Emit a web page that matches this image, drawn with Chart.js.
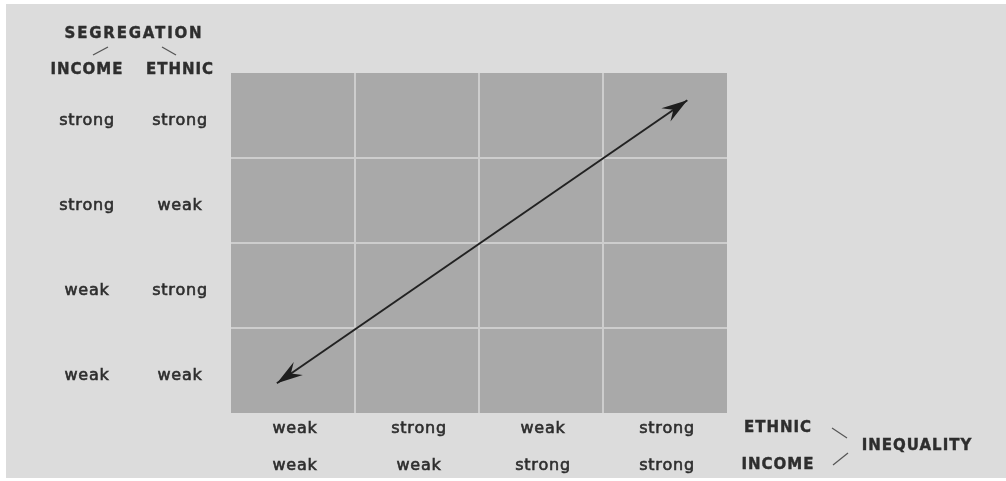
<!DOCTYPE html>
<html>
<head>
<meta charset="utf-8">
<script src="https://cdn.jsdelivr.net/npm/chart.js@4.4.1/dist/chart.umd.min.js"></script>
<style>
  html, body { margin: 0; padding: 0; background: #ffffff; }
  #wrap { width: 1006px; height: 481px; }
</style>
</head>
<body>
<div id="wrap"><canvas id="chart" width="1006" height="481"></canvas></div>
<script>
// rows bottom -> top (y axis), columns left -> right (x axis)
const incomeSegregation = ["weak", "weak", "strong", "strong"];
const ethnicSegregation = ["weak", "strong", "weak", "strong"];
const ethnicInequality = ["weak", "strong", "weak", "strong"];
const incomeInequality = ["weak", "weak", "strong", "strong"];

// double headed arrow, in cell units (0..4)
const arrowX = [0.37, 3.68];
const arrowY = [0.35, 3.68];

const TEXT = "#2e2e2e";
const labelFont = "16px 'DejaVu Sans'";
const headFont = "bold 15px 'DejaVu Sans'";

function drawText(ctx, str, x, y, font, spacing, weight) {
  ctx.font = font;
  ctx.letterSpacing = spacing + "px";
  ctx.fillText(str, x, y);
  if (weight) {
    // fatten the glyphs a little, the print is heavier than the book face
    ctx.lineWidth = weight;
    ctx.strokeStyle = TEXT;
    ctx.strokeText(str, x, y);
  }
  ctx.letterSpacing = "0px";
}

function slash(ctx, x1, y1, x2, y2) {
  ctx.beginPath();
  ctx.moveTo(x1, y1);
  ctx.lineTo(x2, y2);
  ctx.stroke();
}

function arrowHead(ctx, tip, from) {
  const ang = Math.atan2(tip.y - from.y, tip.x - from.x);
  ctx.save();
  ctx.translate(tip.x, tip.y);
  ctx.rotate(ang);
  ctx.beginPath();
  ctx.moveTo(0, 0);
  ctx.lineTo(-26, -8);
  ctx.lineTo(-17, 0);
  ctx.lineTo(-26, 8);
  ctx.closePath();
  ctx.fillStyle = "#1e1e1e";
  ctx.fill();
  ctx.restore();
}

const backgroundPlugin = {
  id: "matrixBackground",
  beforeDraw(chart) {
    const { ctx, chartArea } = chart;
    ctx.save();
    ctx.fillStyle = "#ffffff";
    ctx.fillRect(0, 0, chart.width, chart.height);
    ctx.fillStyle = "#dcdcdc";
    ctx.fillRect(6, 4, chart.width - 6, chart.height - 7);
    ctx.fillStyle = "#a9a9a9";
    ctx.fillRect(chartArea.left, chartArea.top,
      chartArea.right - chartArea.left, chartArea.bottom - chartArea.top);
    ctx.restore();
  }
};

const labelPlugin = {
  id: "matrixLabels",
  afterDraw(chart) {
    const { ctx, chartArea } = chart;
    const xs = chart.scales.x;
    const ys = chart.scales.y;
    ctx.save();
    ctx.fillStyle = TEXT;
    ctx.textAlign = "center";
    ctx.textBaseline = "middle";

    // left side: segregation
    const incCol = chartArea.left - 144;
    const ethCol = chartArea.left - 51;
    drawText(ctx, "SEGREGATION", 134, 34, headFont, 1.8, 0.4);
    drawText(ctx, "INCOME", incCol, 70, headFont, 1, 0.4);
    drawText(ctx, "ETHNIC", ethCol, 70, headFont, 1, 0.4);
    incomeSegregation.forEach((s, i) => {
      const y = ys.getPixelForValue(i + 0.5) + 5;
      drawText(ctx, s, incCol, y, labelFont, 0.8, 0.6);
      drawText(ctx, ethnicSegregation[i], ethCol, y, labelFont, 0.8, 0.6);
    });

    // bottom: inequality
    const row1 = chartArea.bottom + 16;
    const row2 = chartArea.bottom + 53;
    ethnicInequality.forEach((s, i) => {
      const x = xs.getPixelForValue(i + 0.5) + 2;
      drawText(ctx, s, x, row1, labelFont, 0.8, 0.6);
      drawText(ctx, incomeInequality[i], x, row2, labelFont, 0.8, 0.6);
    });
    drawText(ctx, "ETHNIC", 778, 428, headFont, 1, 0.4);
    drawText(ctx, "INCOME", 778, 465, headFont, 1, 0.4);
    drawText(ctx, "INEQUALITY", 917, 446, headFont, 1, 0.4);

    ctx.strokeStyle = "#555555";
    ctx.lineWidth = 1.2;
    slash(ctx, 93, 55, 108, 47);
    slash(ctx, 162, 47, 176, 55);
    slash(ctx, 832, 428, 847, 438);
    slash(ctx, 833, 465, 848, 453);

    // arrow heads on both ends of the line
    const pts = chart.getDatasetMeta(0).data;
    arrowHead(ctx, pts[0], pts[1]);
    arrowHead(ctx, pts[1], pts[0]);
    ctx.restore();
  }
};

const gridColor = (c) =>
  (c.tick.value === 0 || c.tick.value === 4) ? "rgba(0,0,0,0)" : "#cdcdcd";

new Chart(document.getElementById("chart"), {
  type: "scatter",
  data: {
    datasets: [{
      data: arrowX.map((x, i) => ({ x: x, y: arrowY[i] })),
      showLine: true,
      borderColor: "#222222",
      borderWidth: 2,
      pointRadius: 0
    }]
  },
  options: {
    responsive: false,
    animation: false,
    layout: { padding: { left: 231, right: 279, top: 73, bottom: 68 } },
    plugins: { legend: { display: false }, tooltip: { enabled: false } },
    scales: {
      x: {
        type: "linear", min: 0, max: 4,
        ticks: { display: false, stepSize: 1 },
        grid: { color: gridColor, lineWidth: 2, drawTicks: false },
        border: { display: false }
      },
      y: {
        type: "linear", min: 0, max: 4,
        ticks: { display: false, stepSize: 1 },
        grid: { color: gridColor, lineWidth: 2, drawTicks: false },
        border: { display: false }
      }
    }
  },
  plugins: [backgroundPlugin, labelPlugin]
});
</script>
</body>
</html>
